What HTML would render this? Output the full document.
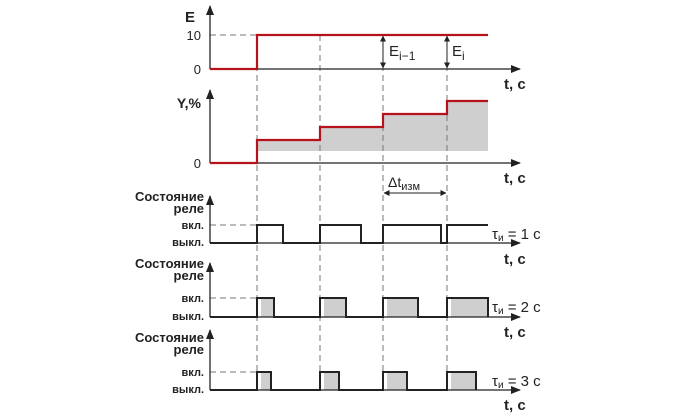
<!DOCTYPE html>
<html><head><meta charset="utf-8"><style>
html,body{margin:0;padding:0;background:#fff;}
svg{display:block;}
text{font-family:"Liberation Sans",sans-serif;fill:#222;}
.b{font-weight:bold;}
</style></head><body>
<svg width="700" height="415" viewBox="0 0 700 415" xmlns="http://www.w3.org/2000/svg">
<defs>
<marker id="ah" markerWidth="10" markerHeight="8" refX="9" refY="4" orient="auto" markerUnits="userSpaceOnUse"><path d="M0,0 L10,4 L0,8 Z" fill="#222"/></marker>
<marker id="sa" markerWidth="6" markerHeight="6" refX="5.5" refY="3" orient="auto-start-reverse" markerUnits="userSpaceOnUse"><path d="M0,0 L6,3 L0,6 Z" fill="#222"/></marker>
</defs>
<g fill="#cfcfcf">
<path d="M257,140 H320 V127 H383 V114 H447 V101 H488 V151 H257 Z"/>
<rect x="261" y="298" width="13" height="19"/><rect x="324" y="298" width="22" height="19"/><rect x="387" y="298" width="31" height="19"/><rect x="451" y="298" width="37" height="19"/>
<rect x="261" y="372" width="10" height="18"/><rect x="324" y="372" width="15" height="18"/><rect x="387" y="372" width="20" height="18"/><rect x="451" y="372" width="25" height="18"/>
</g>
<g stroke="#777" stroke-width="1" stroke-dasharray="6,4" fill="none">
<line x1="210" y1="35" x2="257" y2="35"/>
<line x1="257" y1="35" x2="257" y2="392"/>
<line x1="320" y1="35" x2="320" y2="392"/>
<line x1="383" y1="35" x2="383" y2="392"/>
<line x1="447" y1="35" x2="447" y2="392"/>
<line x1="210" y1="225" x2="257" y2="225"/>
<line x1="210" y1="298" x2="257" y2="298"/>
<line x1="210" y1="372" x2="257" y2="372"/>
</g>
<g stroke="#222" stroke-width="1.3" fill="none">
<line x1="210" y1="69" x2="210" y2="6" marker-end="url(#ah)"/>
<line x1="210" y1="69" x2="520" y2="69" marker-end="url(#ah)"/>
<line x1="210" y1="163" x2="210" y2="90" marker-end="url(#ah)"/>
<line x1="210" y1="163" x2="520" y2="163" marker-end="url(#ah)"/>
<line x1="210" y1="243" x2="210" y2="196" marker-end="url(#ah)"/>
<line x1="210" y1="243" x2="520" y2="243" marker-end="url(#ah)"/>
<line x1="210" y1="317" x2="210" y2="263" marker-end="url(#ah)"/>
<line x1="210" y1="317" x2="520" y2="317" marker-end="url(#ah)"/>
<line x1="210" y1="390" x2="210" y2="330" marker-end="url(#ah)"/>
<line x1="210" y1="390" x2="520" y2="390" marker-end="url(#ah)"/>
</g>
<g stroke="#222" stroke-width="1" fill="none">
<line x1="383" y1="36" x2="383" y2="68" marker-start="url(#sa)" marker-end="url(#sa)"/>
<line x1="447" y1="36" x2="447" y2="68" marker-start="url(#sa)" marker-end="url(#sa)"/>
<line x1="384" y1="193" x2="446" y2="193" marker-start="url(#sa)" marker-end="url(#sa)"/>
</g>
<g stroke="#b5121b" stroke-width="2.2" fill="none">
<path d="M210,69 H257 V35 H488"/>
<path d="M210,163 H257 V140 H320 V127 H383 V114 H447 V101 H488"/>
</g>
<g stroke="#222" stroke-width="2" fill="none">
<path d="M210,243 H257 V225 H283 V243 H320 V225 H361 V243 H383 V225 H441 V243 H447 V225 H488"/>
<path d="M210,317 H257 V298 H274 V317 H320 V298 H346 V317 H383 V298 H418 V317 H447 V298 H488 V317"/>
<path d="M210,390 H257 V372 H271 V390 H320 V372 H339 V390 H383 V372 H407 V390 H447 V372 H476 V390"/>
</g>
<text x="190" y="22" class="b" font-size="15" text-anchor="middle">E</text>
<text x="201" y="40" font-size="13" text-anchor="end">10</text>
<text x="201" y="74" font-size="13" text-anchor="end">0</text>
<text x="201" y="108" class="b" font-size="14" text-anchor="end">Y,%</text>
<text x="201" y="168" font-size="13" text-anchor="end">0</text>
<text x="389" y="56" font-size="15">E<tspan font-size="12" dy="4">i−1</tspan></text>
<text x="452" y="56" font-size="15">E<tspan font-size="12" dy="4">i</tspan></text>
<text x="388" y="187" font-size="14">Δt<tspan font-size="11" dy="3">изм</tspan></text>
<g class="b" font-size="15">
<text x="504" y="89">t, c</text><text x="504" y="183">t, c</text><text x="504" y="264">t, c</text><text x="504" y="337">t, c</text><text x="504" y="410">t, c</text>
</g>
<g class="b" font-size="13" text-anchor="end">
<text x="204" y="201">Состояние</text><text x="204" y="213">реле</text>
<text x="204" y="268">Состояние</text><text x="204" y="280">реле</text>
<text x="204" y="342">Состояние</text><text x="204" y="354">реле</text>
</g>
<g class="b" font-size="11" text-anchor="end">
<text x="204" y="229">вкл.</text><text x="204" y="246">выкл.</text>
<text x="204" y="302">вкл.</text><text x="204" y="320">выкл.</text>
<text x="204" y="376">вкл.</text><text x="204" y="393">выкл.</text>
</g>
<g font-size="15">
<text x="492" y="239">τ<tspan font-size="10" dy="2">и</tspan><tspan dy="-2"> = 1 c</tspan></text>
<text x="492" y="312">τ<tspan font-size="10" dy="2">и</tspan><tspan dy="-2"> = 2 c</tspan></text>
<text x="492" y="386">τ<tspan font-size="10" dy="2">и</tspan><tspan dy="-2"> = 3 c</tspan></text>
</g>
</svg>
</body></html>
